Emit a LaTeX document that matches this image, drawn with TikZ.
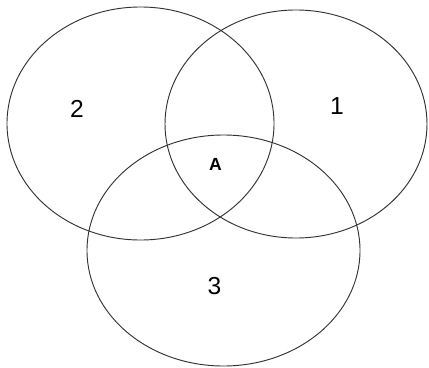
\documentclass[tikz,border=0pt]{standalone}
\usepackage{fontspec}
\setmainfont{Liberation Sans}
\definecolor{ink}{HTML}{333333}
\usetikzlibrary{shapes.geometric}
\tikzset{
  set/.style={ellipse,draw=ink,line width=0.8pt,inner sep=0pt},
  num/.style={font=\fontsize{21}{24}\selectfont,text=black,inner sep=0pt},
  zone/.style={font=\fontsize{15}{17}\selectfont\bfseries,text=black,inner sep=0pt}
}

\begin{document}
\begin{tikzpicture}[x=0.03cm,y=-0.03cm]
    \useasboundingbox (0,0) rectangle (429,367);
    \node[set,minimum width=8.01cm,minimum height=6.99cm] (s2) at (140.5,123.5) {};
    \node[set,minimum width=7.86cm,minimum height=6.84cm] (s1) at (296,124) {};
    \node[set,minimum width=8.19cm,minimum height=6.93cm] (s3) at (223.5,250.5) {};
    \node[num] (n2) at (77,109) {2};
    \node[num] (n1) at (337,106.5) {1};
    \node[num] (n3) at (214.5,286.5) {3};
    \node[zone] (a) at (215.5,164.5) {A};
  \end{tikzpicture}
\end{document}
